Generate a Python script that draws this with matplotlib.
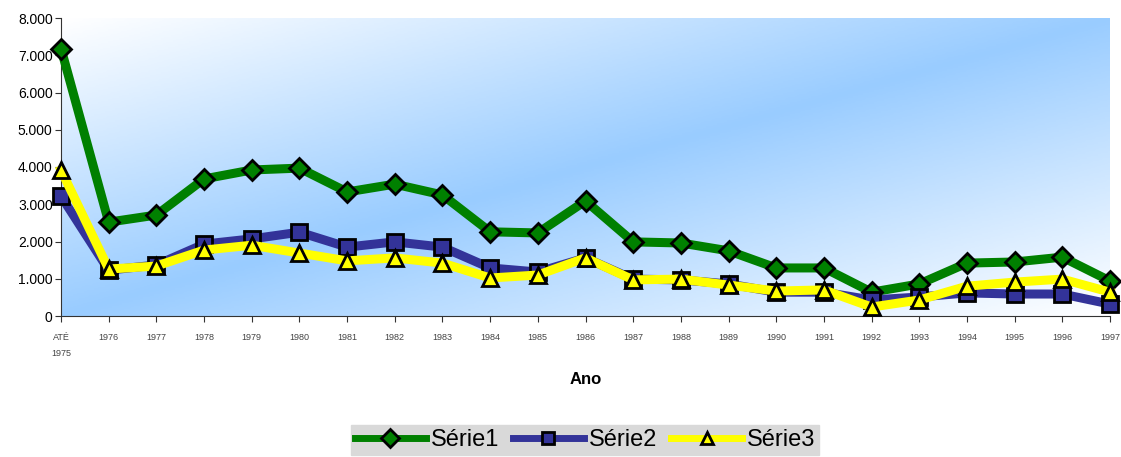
import numpy as np
import matplotlib
matplotlib.use("Agg")
import matplotlib.pyplot as plt
from matplotlib.colors import LinearSegmentedColormap

plt.rcParams['font.family'] = ['Liberation Sans', 'DejaVu Sans']

# Data
anos = ["ATÉ\n1975", "1976", "1977", "1978", "1979", "1980", "1981", "1982",
        "1983", "1984", "1985", "1986", "1987", "1988", "1989", "1990",
        "1991", "1992", "1993", "1994", "1995", "1996", "1997"]
serie1 = [7180, 2520, 2710, 3680, 3920, 3970, 3330, 3540, 3250, 2260, 2230,
          3090, 1990, 1960, 1750, 1290, 1290, 640, 860, 1420, 1450, 1580, 940]
serie2 = [3220, 1230, 1370, 1930, 2070, 2250, 1850, 1990, 1850, 1290, 1180,
          1560, 990, 970, 860, 640, 640, 430, 510, 620, 590, 590, 320]
serie3 = [3920, 1260, 1340, 1770, 1900, 1690, 1480, 1560, 1420, 1020, 1100,
          1560, 970, 990, 830, 670, 700, 240, 430, 800, 910, 990, 640]

fig = plt.figure(figsize=(11.21, 4.57), dpi=100)
ax = fig.add_axes([61/1121, 1 - 316/457, (1110 - 61)/1121, (316 - 18)/457])

# diagonal gradient background: white -> light blue -> white
cmap = LinearSegmentedColormap.from_list("bg", ["#ffffff", "#99ccff", "#ffffff"])
xx, yy = np.meshgrid(np.linspace(0, 1, 300), np.linspace(1, 0, 200))
grad = (xx + (1 - yy)) / 2.0
ax.imshow(grad, cmap=cmap, extent=[0, 22, 0, 8000], aspect='auto',
          zorder=0, vmin=0, vmax=1)

x = np.arange(len(anos))
ax.plot(x, serie1, color="#008000", lw=6.5, marker="D", ms=10,
        mfc="#008000", mec="black", mew=2, label="Série1", zorder=3,
        clip_on=False)
ax.plot(x, serie2, color="#333399", lw=6.5, marker="s", ms=11,
        mfc="#333399", mec="black", mew=2, label="Série2", zorder=4,
        clip_on=False)
ax.plot(x, serie3, color="#ffff00", lw=6.5, marker="^", ms=11.5,
        mfc="#ffff00", mec="black", mew=2, label="Série3", zorder=5,
        clip_on=False)

ax.set_xlim(0, 22)
ax.set_ylim(0, 8000)
ax.set_yticks(np.arange(0, 8001, 1000))
ax.set_yticklabels(["0"] + ["{}.000".format(i) for i in range(1, 9)],
                   fontsize=10)
ax.set_xticks(x)
ax.set_xticklabels(anos, fontsize=6.5, color="#444444", linespacing=2.0)

for s in ["top", "right"]:
    ax.spines[s].set_visible(False)
ax.spines["left"].set_color("#333333")
ax.spines["bottom"].set_color("#333333")
ax.tick_params(axis="y", length=4, color="#333333", pad=2)
ax.tick_params(axis="x", length=4, color="#333333", pad=8)

ax.set_xlabel("Ano", fontsize=12, fontweight="bold", labelpad=10)

leg = fig.legend(loc="center", bbox_to_anchor=(585/1121, 1 - 440/457),
                 ncol=3, fontsize=17, frameon=True, fancybox=False,
                 handlelength=3.0, handletextpad=0.2, columnspacing=0.6,
                 borderpad=0.15, borderaxespad=0)
leg.get_frame().set_facecolor("#d9d9d9")
leg.get_frame().set_edgecolor("#d9d9d9")
leg.get_frame().set_alpha(1)
for h in leg.legend_handles:
    h.set_markersize(9)
    h.set_linewidth(5)

fig.savefig("out.png", dpi=100)
